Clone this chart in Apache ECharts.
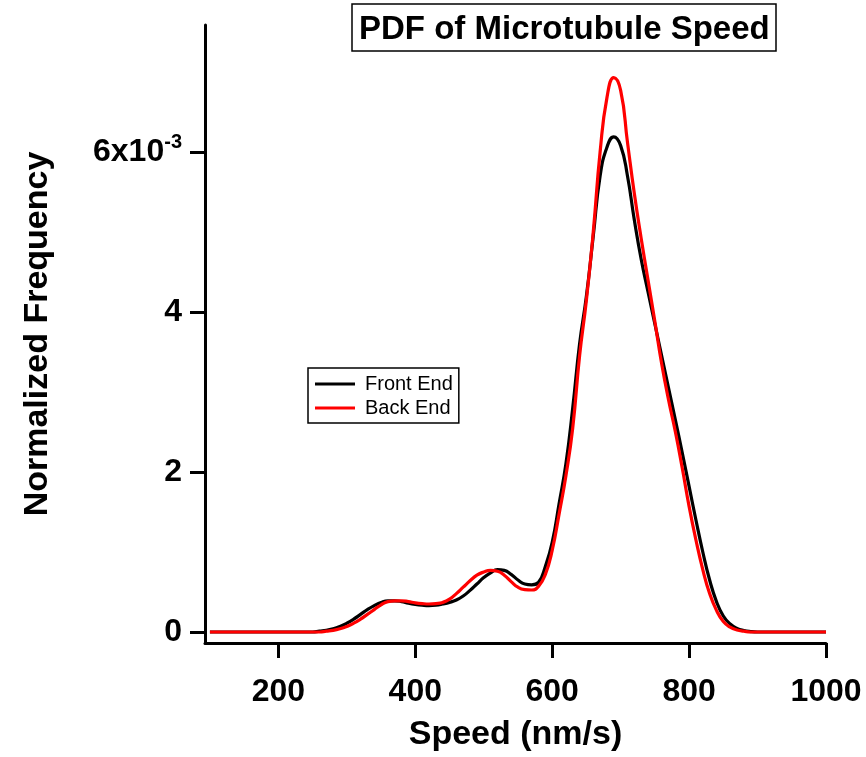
<!DOCTYPE html>
<html>
<head>
<meta charset="utf-8">
<script src="https://cdn.jsdelivr.net/npm/echarts@6/dist/echarts.min.js"></script>
<style>
html,body{margin:0;padding:0;background:#fff;}
#chart{width:866px;height:757px;}
</style>
</head>
<body>
<div id="chart"></div>
<script>
// Speed (nm/s)
var speeds = [100,110,120,130,140,150,160,170,180,190,200,210,220,230,240,250,260,270,280,290,300,310,320,330,340,350,360,370,380,390,400,410,420,430,440,450,460,470,480,490,500,510,520,530,540,550,560,570,580,590,600,610,620,630,640,650,660,670,680,690,700,710,720,730,740,750,760,770,780,790,800,810,820,830,840,850,860,870,880,890,900,910,920,930,940,950,960,970,980,990,1000];
// Normalized frequency, in units of 1e-3
var frontEnd = [0,0,0,0,0,0,0,0,0,0,0,0,0,0,0,0,0.01,0.02,0.04,0.07,0.11,0.16,0.22,0.28,0.33,0.37,0.39,0.39,0.38,0.36,0.345,0.335,0.33,0.335,0.35,0.37,0.40,0.45,0.52,0.60,0.68,0.74,0.78,0.77,0.72,0.65,0.60,0.59,0.62,0.82,1.12,1.6,2.1,2.8,3.6,4.2,4.95,5.7,6.06,6.19,6.08,5.7,5.15,4.66,4.25,3.85,3.45,3.05,2.65,2.24,1.82,1.4,1.0,0.65,0.38,0.2,0.1,0.045,0.018,0.005,0,0,0,0,0,0,0,0,0,0,0];
var backEnd = [0,0,0,0,0,0,0,0,0,0,0,0,0,0,0,0,0,0.01,0.02,0.04,0.07,0.11,0.16,0.22,0.28,0.34,0.38,0.39,0.39,0.38,0.365,0.355,0.35,0.355,0.37,0.41,0.48,0.56,0.64,0.71,0.75,0.77,0.76,0.71,0.63,0.56,0.53,0.525,0.57,0.72,1.02,1.47,1.95,2.55,3.45,4.15,5.0,6.0,6.68,6.93,6.77,6.12,5.48,4.92,4.4,3.88,3.35,2.9,2.5,2.05,1.57,1.15,0.78,0.48,0.27,0.13,0.06,0.025,0.01,0,0,0,0,0,0,0,0,0,0,0,0];
var xTicks = [200,400,600,800,1000];
var yTicks = [0,2,4,6];
var seriesNames = ['Front End','Back End'];
var titleText = 'PDF of Microtubule Speed';
var xName = 'Speed (nm/s)';
var yName = 'Normalized Frequency';

var FONT = '"Liberation Sans", Arial, Helvetica, sans-serif';
function pairs(xs, ys){ return xs.map(function(x,i){ return [x, ys[i]]; }); }

var chart = echarts.init(document.getElementById('chart'), null, {renderer:'canvas'});
chart.setOption({
  animation:false,
  backgroundColor:'#fff',
  title:{
    text:titleText, left:352, top:4,
    borderColor:'#000', borderWidth:1.5, padding:[7,7,3,7],
    textStyle:{fontFamily:FONT, fontSize:33, fontWeight:'bold', color:'#000', lineHeight:37}
  },
  legend:{
    orient:'vertical', left:308, top:368,
    padding:[6,6,5,7], itemGap:4, itemWidth:40, itemHeight:3, icon:'rect',
    borderColor:'#000', borderWidth:1.5,
    data:seriesNames,
    textStyle:{fontFamily:FONT, fontSize:20, lineHeight:20, color:'#000', padding:[0,0,0,5]}
  },
  grid:{left:205, right:40, top:25, bottom:114, containLabel:false},
  xAxis:{
    type:'value', min:92.8, max:1000,
    name:xName, nameLocation:'middle', nameGap:75,
    nameTextStyle:{fontFamily:FONT, fontSize:34, fontWeight:'bold', color:'#000'},
    axisLine:{show:true, onZero:false, lineStyle:{color:'#000', width:3}},
    axisTick:{show:true, customValues:xTicks, length:15, lineStyle:{color:'#000', width:3}},
    axisLabel:{customValues:xTicks, margin:33, fontFamily:FONT, fontSize:32, fontWeight:'bold', color:'#000',
      formatter:function(v){ return String(v); }},
    splitLine:{show:false}
  },
  yAxis:{
    type:'value', min:-0.1375, max:7.5875,
    name:yName, nameLocation:'middle', nameGap:150, nameRotate:90,
    nameTextStyle:{fontFamily:FONT, fontSize:34, fontWeight:'bold', color:'#000'},
    axisLine:{show:true, onZero:false, lineStyle:{color:'#000', width:3}},
    axisTick:{show:true, customValues:yTicks, length:15, lineStyle:{color:'#000', width:3}},
    axisLabel:{
      customValues:yTicks, margin:23, color:'#000',
      formatter:function(v){ return v===6 ? '{a|6x10}{b|-3}' : '{a|'+v+'}'; },
      rich:{
        a:{fontFamily:FONT, fontSize:32, fontWeight:'bold', color:'#000', lineHeight:40},
        b:{fontFamily:FONT, fontSize:20, fontWeight:'bold', color:'#000', verticalAlign:'top', lineHeight:40, padding:[0,0,14,0]}
      }
    },
    splitLine:{show:false}
  },
  series:[
    {name:seriesNames[0], type:'line', data:pairs(speeds, frontEnd), smooth:0.5, symbol:'none', showSymbol:false,
     lineStyle:{color:'#000', width:3.2}, itemStyle:{color:'#000'}},
    {name:seriesNames[1], type:'line', data:pairs(speeds, backEnd), smooth:0.5, symbol:'none', showSymbol:false,
     lineStyle:{color:'#ff0000', width:3.2}, itemStyle:{color:'#ff0000'}}
  ]
});
</script>
</body>
</html>
